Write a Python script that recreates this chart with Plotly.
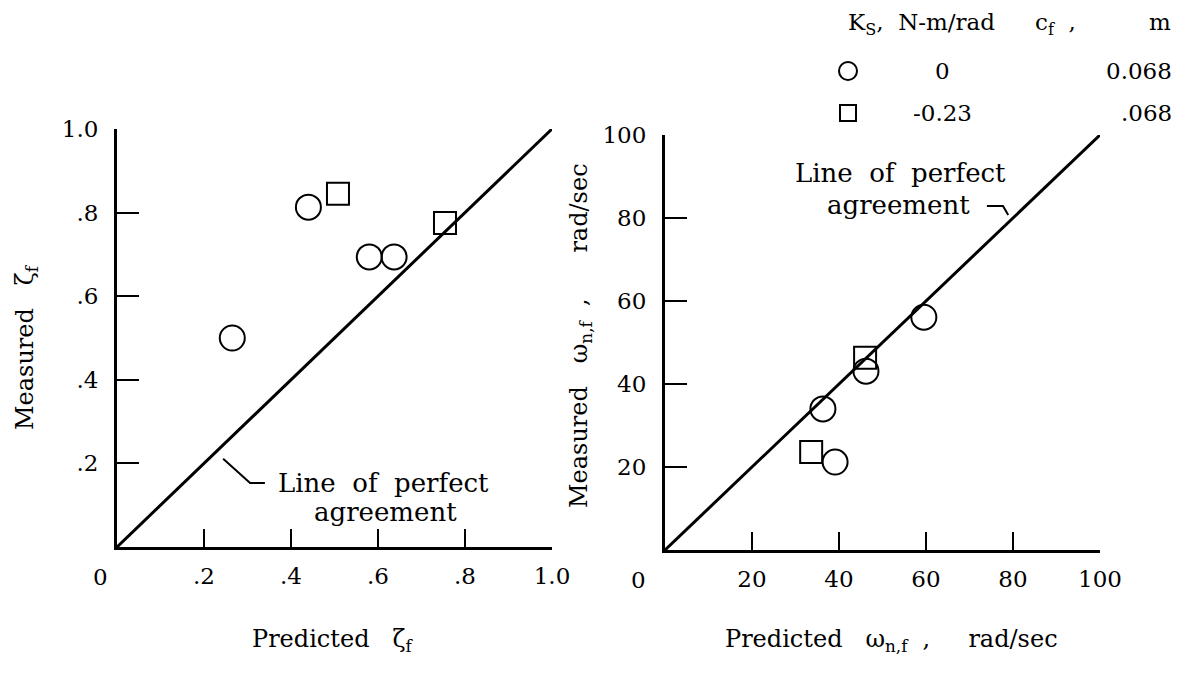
import plotly.graph_objects as go

# ---- data ----
# damping ratio, left panel
zeta_pred_circle = [0.265, 0.44, 0.58, 0.637]
zeta_meas_circle = [0.50, 0.813, 0.694, 0.694]
zeta_pred_square = [0.508, 0.754]
zeta_meas_square = [0.845, 0.775]

# natural frequency, right panel (rad/sec)
omega_pred_circle = [36.3, 39.1, 46.2, 59.5]
omega_meas_circle = [34.0, 21.2, 43.1, 56.1]
omega_pred_square = [33.6, 46.0]
omega_meas_square = [23.6, 46.3]

zeta_ticks = [0.2, 0.4, 0.6, 0.8, 1.0]
zeta_ticktext = [".2", ".4", ".6", ".8", "1.0"]
omega_ticks = [20, 40, 60, 80, 100]
omega_ticktext = ["20", "40", "60", "80", "100"]

legend_ks = ["0", "-0.23"]
legend_cf = ["0.068", ".068"]

W, H = 1181, 675
FONT = "DejaVu Serif"
INK = "black"
SP = "\u00a0"


def px(x):
    return x / W


def py(y):
    return 1 - y / H


fig = go.Figure()

# line of perfect agreement
fig.add_trace(go.Scatter(x=[0, 1], y=[0, 1], mode="lines",
                         line=dict(color=INK, width=3), xaxis="x", yaxis="y"))
fig.add_trace(go.Scatter(x=[0, 100], y=[0, 100], mode="lines",
                         line=dict(color=INK, width=3), xaxis="x2", yaxis="y2"))

circle_marker = dict(symbol="circle-open", size=25, color=INK, line=dict(width=2, color=INK))
square_marker = dict(symbol="square-open", size=22, color=INK, line=dict(width=2, color=INK))

fig.add_trace(go.Scatter(x=zeta_pred_circle, y=zeta_meas_circle, mode="markers",
                         marker=circle_marker, xaxis="x", yaxis="y"))
fig.add_trace(go.Scatter(x=zeta_pred_square, y=zeta_meas_square, mode="markers",
                         marker=square_marker, xaxis="x", yaxis="y"))
fig.add_trace(go.Scatter(x=omega_pred_circle, y=omega_meas_circle, mode="markers",
                         marker=circle_marker, xaxis="x2", yaxis="y2"))
fig.add_trace(go.Scatter(x=omega_pred_square, y=omega_meas_square, mode="markers",
                         marker=square_marker, xaxis="x2", yaxis="y2"))

FS = 23
tickfont = dict(family=FONT, size=FS, color=INK)
common = dict(showline=True, linewidth=3, linecolor=INK, showgrid=False, zeroline=False,
              ticks="inside", tickwidth=2, tickcolor=INK, tickfont=tickfont,
              automargin=False)

fig.update_layout(
    template="none",
    width=W, height=H,
    margin=dict(l=0, r=0, t=0, b=0, autoexpand=False),
    paper_bgcolor="white", plot_bgcolor="white",
    showlegend=False,
    xaxis=dict(domain=[px(117), px(552)], range=[0, 1], anchor="y",
               tickvals=zeta_ticks, ticktext=zeta_ticktext, ticklen=18,
               ticklabelstandoff=6, **common),
    yaxis=dict(domain=[py(547), py(129)], range=[0, 1], anchor="x",
               tickvals=zeta_ticks, ticktext=zeta_ticktext, ticklen=22,
               ticklabelstandoff=11, **common),
    xaxis2=dict(domain=[px(665), px(1100)], range=[0, 100], anchor="y2",
                tickvals=omega_ticks, ticktext=omega_ticktext, ticklen=18,
                ticklabelstandoff=6, **common),
    yaxis2=dict(domain=[py(550), py(135)], range=[0, 100], anchor="x2",
                tickvals=omega_ticks, ticktext=omega_ticktext, ticklen=22,
                ticklabelstandoff=11, **common),
)

annotations = []


def label(x, y, text, size=FS, xanchor="center", angle=0):
    annotations.append(dict(x=px(x), y=py(y), xref="paper", yref="paper", text=text,
                            xanchor=xanchor, yanchor="middle", textangle=angle,
                            showarrow=False,
                            font=dict(family=FONT, size=size, color=INK)))


# origin labels
for xr, yr, dx in (("x", "y", -17), ("x2", "y2", -27)):
    annotations.append(dict(x=0, y=0, xref=xr, yref=yr, text="0", showarrow=False,
                            xanchor="center", yanchor="middle",
                            xshift=dx, yshift=-30,
                            font=dict(family=FONT, size=FS, color=INK)))

# axis titles
label(332, 640, f"Predicted{SP}{SP}{SP}ζ<sub>f</sub>", size=24)
label(26, 347, f"Measured{SP}{SP}{SP}ζ<sub>f</sub>", size=24, angle=-90)
label(891, 640,
      f"Predicted{SP}{SP}{SP}ω<sub>n,f</sub>{SP}{SP},{SP}{SP}{SP}{SP}{SP}rad/sec",
      size=24)
label(580, 336,
      f"Measured{SP}{SP}{SP}ω<sub>n,f</sub>{SP}{SP},{SP}{SP}{SP}{SP}{SP}{SP}rad/sec",
      size=24, angle=-90)

# perfect-agreement labels
label(384, 483, f"Line{SP}{SP}of{SP}{SP}perfect", size=26)
label(385, 512, "agreement", size=26)
label(900, 173, f"Line{SP}{SP}of{SP}{SP}perfect", size=26)
label(898, 205, "agreement", size=26)

# legend table
label(846, 24, f"K<sub>S</sub>,{SP}{SP}N-m/rad", xanchor="left")
label(1033, 24, f"c<sub>f</sub>{SP}{SP},{SP}{SP}{SP}{SP}{SP}{SP}{SP}{SP}{SP}{SP}m",
      xanchor="left")
for row_y, ks, cf in zip([71, 113], legend_ks, legend_cf):
    label(942, row_y, ks)
    label(1174, row_y, cf, xanchor="right")

fig.update_layout(annotations=annotations)

shapes = []
# leader lines for the perfect-agreement labels
leader = dict(color=INK, width=2)
shapes.append(dict(type="path", xref="x", yref="y",
                   path="M 0.244 0.211 L 0.306 0.153 L 0.340 0.153", line=leader))
shapes.append(dict(type="path", xref="x2", yref="y2",
                   path="M 74.0 82.9 L 77.7 82.9 L 78.9 80.7", line=leader))
# legend keys
shapes.append(dict(type="circle", xref="paper", yref="paper",
                   x0=px(839), x1=px(857), y0=py(80), y1=py(62),
                   line=dict(color=INK, width=2)))
shapes.append(dict(type="rect", xref="paper", yref="paper",
                   x0=px(840), x1=px(856), y0=py(121), y1=py(105),
                   line=dict(color=INK, width=2)))
fig.update_layout(shapes=shapes)

fig.write_html("out.html")
